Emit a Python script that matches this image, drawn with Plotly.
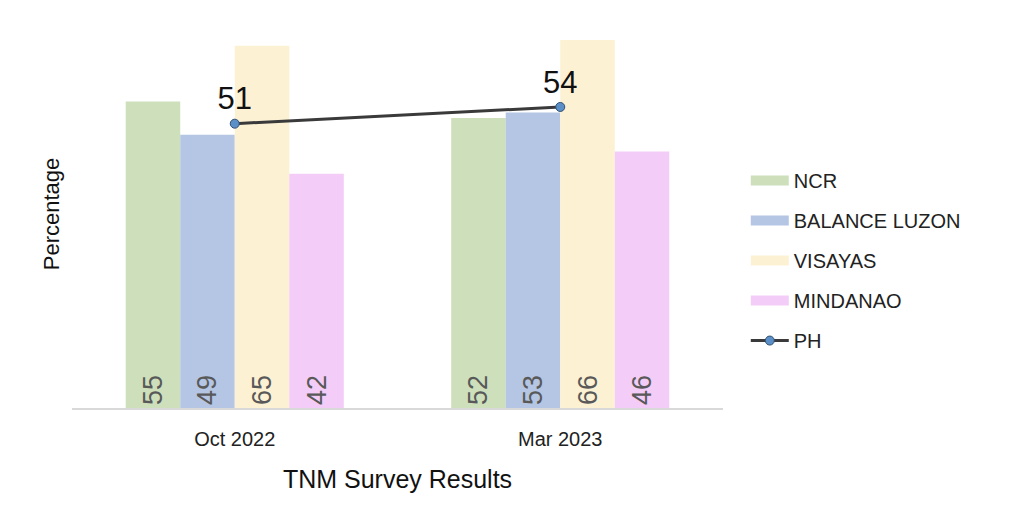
import plotly.graph_objects as go

periods = ["Oct 2022", "Mar 2023"]
regions = ["NCR", "BALANCE LUZON", "VISAYAS", "MINDANAO"]
ncr = [55, 52]
balance_luzon = [49, 53]
visayas = [65, 66]
mindanao = [42, 46]
ph = [51, 54]

colors = ["#cde0bb", "#b4c6e4", "#fdf1d4", "#f3cdf8"]
series = [ncr, balance_luzon, visayas, mindanao]
FONT = "Liberation Sans, Arial"

fig = go.Figure()
for name, vals, col in zip(regions, series, colors):
    fig.add_trace(go.Bar(
        x=periods, y=vals, name=name, marker=dict(color=col, line=dict(width=0)),
        text=[str(v) for v in vals], textposition="inside", insidetextanchor="start",
        textangle=-90, insidetextfont=dict(family=FONT, size=27, color="#595959"),
        showlegend=False, cliponaxis=False, legendgroup=name,
    ))
    # legend swatch entry
    fig.add_trace(go.Scatter(
        x=[None], y=[None], mode="lines", name=name,
        line=dict(color=col, width=14), legendgroup=name,
    ))

fig.add_trace(go.Scatter(
    x=periods, y=ph, name="PH", mode="lines+markers+text",
    line=dict(color="#3a3a3a", width=3),
    marker=dict(color="#5b8fc7", size=9, line=dict(color="#2f4f73", width=1)),
    text=[str(v) for v in ph], textposition="top center",
    textfont=dict(family=FONT, size=31, color="#111111"),
    legendgroup="PH", cliponaxis=False,
))

fig.update_layout(
    width=1031, height=517,
    margin=dict(l=64, r=316, t=12, b=117),
    paper_bgcolor="white", plot_bgcolor="white",
    barmode="group", bargap=0.33, bargroupgap=0,
    font=dict(family=FONT, color="#222222"),
    legend=dict(x=1.035, y=0.38, xanchor="left", yanchor="middle",
                font=dict(size=20, color="#222222"), itemwidth=38,
                tracegroupgap=11, traceorder="grouped"),
    uniformtext=dict(mode=False),
)
fig.update_xaxes(
    showline=True, linecolor="#d9d9d9", linewidth=1.5, ticks="",
    tickfont=dict(size=20, color="#222222"), ticklabelstandoff=12,
    title=dict(text="TNM Survey Results", font=dict(size=25, color="#111111"), standoff=22),
    showgrid=False, automargin=False,
)
fig.update_yaxes(
    range=[0, 69.6], showticklabels=False, showgrid=False, zeroline=False, showline=False,
    title=dict(text="Percentage", font=dict(size=22, color="#111111"), standoff=5),
    automargin=False,
)

fig.write_html("out.html")
